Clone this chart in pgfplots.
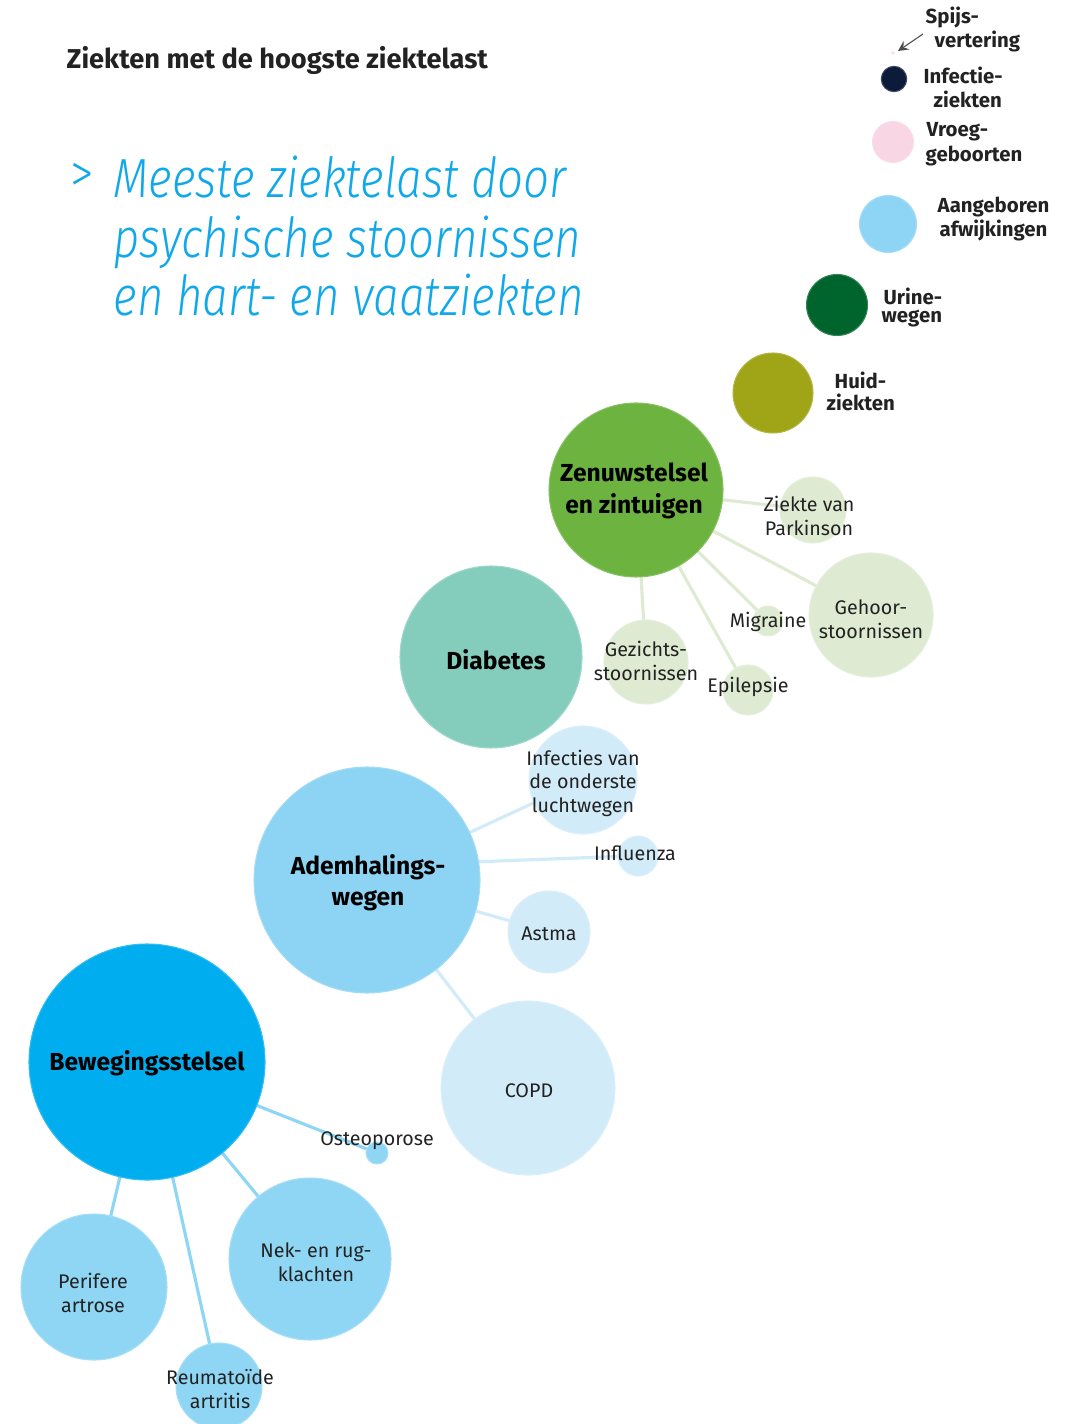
\documentclass[border=0pt]{standalone}
\usepackage{pgfplots}
\pgfplotsset{compat=1.18}
\usepackage{fontspec}
\setmainfont{Fira Sans}
\newfontfamily\headfont{Fira Sans Light Italic}
\newfontfamily\headup{Fira Sans Light}
\definecolor{cNavy}{HTML}{0C1B3A}
\definecolor{cPink}{HTML}{F8D6E4}
\definecolor{cLB}{HTML}{8ED5F5}
\definecolor{cDG}{HTML}{00642D}
\definecolor{cOlive}{HTML}{A0A517}
\definecolor{cZen}{HTML}{6CB33F}
\definecolor{cZenL}{HTML}{DEEBD2}
\definecolor{cDia}{HTML}{84CDBD}
\definecolor{cAdem}{HTML}{8DD3F4}
\definecolor{cAdemL}{HTML}{D2EBF9}
\definecolor{cBew}{HTML}{00AEEF}
\definecolor{cBewL}{HTML}{8FD6F5}
\definecolor{cHead}{HTML}{10A8E8}
\definecolor{cTxt}{HTML}{222222}
\pgfplotsset{
  bub/.style={only marks, mark=*, scatter,
    scatter/use mapped color={fill=#1, draw=#1!80!white, line width=0.3pt},
    visualization depends on={\thisrow{r}\as\rad},
    scatter/@pre marker code/.append style={/tikz/mark size=\rad*0.28453}},
  base/.style={scale only axis, width=10.79cm, height=14.24cm,
    xmin=0, xmax=1079, ymin=0, ymax=1424, y dir=reverse,
    hide axis, clip=false, at={(0,0)}, anchor=south west},
}
\newcommand{\lab}{\fontsize{5.6}{6.7}\selectfont}
\newcommand{\blab}{\bfseries\fontsize{7}{8.9}\selectfont}
\newcommand{\llab}{\bfseries\fontsize{5.8}{6.8}\selectfont}
\begin{document}
\begin{tikzpicture}
\begin{axis}[base]
\coordinate (BBa) at (rel axis cs:0,0);
\coordinate (BBb) at (rel axis cs:1,1);
% connector lines
\addplot[draw=cZenL, line width=0.9pt] coordinates {(636,490) (813,510)};
\addplot[draw=cZenL, line width=0.9pt] coordinates {(636,490) (871,615)};
\addplot[draw=cZenL, line width=0.9pt] coordinates {(636,490) (768,621)};
\addplot[draw=cZenL, line width=0.9pt] coordinates {(636,490) (748,690)};
\addplot[draw=cZenL, line width=0.9pt] coordinates {(636,490) (646,662)};
\addplot[draw=cAdemL, line width=0.9pt] coordinates {(367,880) (583,780)};
\addplot[draw=cAdemL, line width=0.9pt] coordinates {(367,866) (630,856)};
\addplot[draw=cAdemL, line width=0.9pt] coordinates {(367,880) (549,932)};
\addplot[draw=cAdemL, line width=0.9pt] coordinates {(367,880) (528,1088)};
\addplot[draw=cBewL, line width=0.9pt] coordinates {(147,1062) (377,1153)};
\addplot[draw=cBewL, line width=0.9pt] coordinates {(147,1062) (310,1259)};
\addplot[draw=cBewL, line width=0.9pt] coordinates {(147,1062) (94,1287)};
\addplot[draw=cBewL, line width=0.9pt] coordinates {(147,1062) (219,1386)};
% bubbles
\addplot[bub=cNavy] table {
x y r
894 79 12.7
};
\addplot[bub=cPink] table {
x y r
893 142 20.5
893 53 1.2
};
\addplot[bub=cLB] table {
x y r
888 224 28.5
};
\addplot[bub=cDG] table {
x y r
837 305 30.5
};
\addplot[bub=cOlive] table {
x y r
773 393 40
};
\addplot[bub=cZen] table {
x y r
636 490 87
};
\addplot[bub=cZenL] table {
x y r
813 510 33
871 615 62
768 621 15
748 690 25
646 662 42
};
\addplot[bub=cDia] table {
x y r
491 657 91
};
\addplot[bub=cAdem] table {
x y r
367 880 113
};
\addplot[bub=cAdemL] table {
x y r
583 780 54
638 856 20
549 932 41
528 1088 87
};
\addplot[bub=cBew] table {
x y r
147 1062 118
};
\addplot[bub=cBewL] table {
x y r
377 1153 11
310 1259 81
94 1287 73
219 1386 43
};
\end{axis}
\begin{axis}[base]
% arrow for Spijsvertering
\draw[->, >=stealth, draw=black!70, line width=0.3pt] (axis cs:923,34) -- (axis cs:898,51);
% titles
\node[anchor=base west, inner sep=0pt, text=cTxt, font=\bfseries\fontsize{7.75}{9}\selectfont] at (axis cs:66,69) {Ziekten met de hoogste ziektelast};
\node[anchor=base west, inner sep=0pt, text=cHead, font=\headup\fontsize{15.7}{17}\selectfont] at (axis cs:70,193) {\scalebox{0.85}[1]{>}};
\node[anchor=base west, inner sep=0pt, text=cHead, font=\headfont\fontsize{15.7}{17}\selectfont] at (axis cs:113,198) {\scalebox{0.828}[1]{Meeste ziektelast door}};
\node[anchor=base west, inner sep=0pt, text=cHead, font=\headfont\fontsize{15.7}{17}\selectfont] at (axis cs:113,258) {\scalebox{0.828}[1]{psychische stoornissen}};
\node[anchor=base west, inner sep=0pt, text=cHead, font=\headfont\fontsize{15.7}{17}\selectfont] at (axis cs:113,316) {\scalebox{0.828}[1]{en hart- en vaatziekten}};
% legend-like labels
\node[anchor=west, inner sep=0pt, text=cTxt, font=\llab] at (axis cs:925,18) {Spijs-};
\node[anchor=west, inner sep=0pt, text=cTxt, font=\llab] at (axis cs:934,42) {vertering};
\node[anchor=west, inner sep=0pt, text=cTxt, font=\llab] at (axis cs:923,75) {Infectie-};
\node[anchor=west, inner sep=0pt, text=cTxt, font=\llab] at (axis cs:933,99) {ziekten};
\node[anchor=west, inner sep=0pt, text=cTxt, font=\llab] at (axis cs:926,132) {Vroeg-};
\node[anchor=west, inner sep=0pt, text=cTxt, font=\llab] at (axis cs:925,156) {geboorten};
\node[anchor=west, inner sep=0pt, text=cTxt, font=\llab] at (axis cs:937,207) {Aangeboren};
\node[anchor=west, inner sep=0pt, text=cTxt, font=\llab] at (axis cs:939,231) {afwijkingen};
\node[anchor=west, inner sep=0pt, text=cTxt, font=\llab] at (axis cs:883,296) {Urine-};
\node[anchor=west, inner sep=0pt, text=cTxt, font=\llab] at (axis cs:881,318) {wegen};
\node[anchor=west, inner sep=0pt, text=cTxt, font=\llab] at (axis cs:834,380) {Huid-};
\node[anchor=west, inner sep=0pt, text=cTxt, font=\llab] at (axis cs:826,402) {ziekten};
% main labels
\node[align=center, inner sep=0pt, text=black, font=\blab] at (axis cs:634,491) {Zenuwstelsel\\en zintuigen};
\node[align=center, inner sep=0pt, text=black, font=\blab] at (axis cs:496,660) {Diabetes};
\node[align=center, inner sep=0pt, text=black, font=\blab] at (axis cs:368,883) {Ademhalings-\\wegen};
\node[align=center, inner sep=0pt, text=black, font=\blab] at (axis cs:147,1063) {Bewegingsstelsel};
% sub labels
\node[align=center, inner sep=0pt, text=cTxt, font=\lab] at (axis cs:809,516) {Ziekte van\\Parkinson};
\node[align=center, inner sep=0pt, text=cTxt, font=\lab] at (axis cs:871,619) {Gehoor-\\stoornissen};
\node[align=center, inner sep=0pt, text=cTxt, font=\lab] at (axis cs:768,622) {Migraine};
\node[align=center, inner sep=0pt, text=cTxt, font=\lab] at (axis cs:646,661) {Gezichts-\\stoornissen};
\node[align=center, inner sep=0pt, text=cTxt, font=\lab] at (axis cs:748,687) {Epilepsie};
\node[align=center, inner sep=0pt, text=cTxt, font=\lab] at (axis cs:583,783) {Infecties van\\de onderste\\luchtwegen};
\node[align=center, inner sep=0pt, text=cTxt, font=\lab] at (axis cs:635,853) {Influenza};
\node[align=center, inner sep=0pt, text=cTxt, font=\lab] at (axis cs:549,934) {Astma};
\node[align=center, inner sep=0pt, text=cTxt, font=\lab] at (axis cs:529,1091) {COPD};
\node[align=center, inner sep=0pt, text=cTxt, font=\lab] at (axis cs:377,1141) {Osteoporose};
\node[align=center, inner sep=0pt, text=cTxt, font=\lab] at (axis cs:316,1262) {Nek- en rug-\\klachten};
\node[align=center, inner sep=0pt, text=cTxt, font=\lab] at (axis cs:93,1293) {Perifere\\artrose};
\node[align=center, inner sep=0pt, text=cTxt, font=\lab] at (axis cs:220,1389) {Reumatoïde\\artritis};
\end{axis}
\pgfresetboundingbox
\path (BBa) rectangle (BBb);
\end{tikzpicture}
\end{document}
